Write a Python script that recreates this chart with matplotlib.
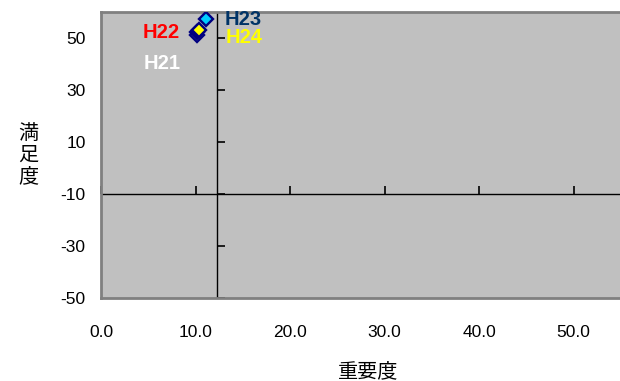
import matplotlib
matplotlib.use("Agg")
import matplotlib.pyplot as plt

plt.rcParams['font.family'] = ['Liberation Sans', 'Noto Sans CJK JP', 'DejaVu Sans']
plt.rcParams['axes.unicode_minus'] = False

# データ
years = ['H21', 'H22', 'H23', 'H24']
importance = [10.15, 10.2, 11.06, 10.37]   # 重要度
satisfaction = [51.4, 52.3, 57.4, 53.2]    # 満足度
fill_colors = ['white', '#000080', '#00CCFF', '#FFFF00']
label_colors = ['white', '#FF0000', '#003366', '#FFFF00']

x_ticks = [0, 10, 20, 30, 40, 50]
y_ticks = [-50, -30, -10, 10, 30, 50]
x_cross = 12.24   # 縦軸の位置
y_cross = -10     # 横軸の位置

fig = plt.figure(figsize=(6.2, 3.81), dpi=100)
ax = fig.add_axes([101 / 620, 1 - 298.3 / 381, 520 / 620, 286 / 381])
ax.set_facecolor('#C0C0C0')
ax.set_xlim(0, 55)
ax.set_ylim(-50, 60)

for side in ['top', 'bottom', 'left']:
    ax.spines[side].set_color('#808080')
    ax.spines[side].set_linewidth(2)
ax.spines['right'].set_visible(False)

ax.set_xticks(x_ticks)
ax.set_xticklabels([f'{v:.1f}' for v in x_ticks])
ax.set_yticks(y_ticks)
ax.tick_params(length=0, labelsize=12.5, colors='black')
ax.tick_params(axis='x', pad=19)
ax.tick_params(axis='y', pad=11)

# 交差する軸
ax.axvline(x_cross, color='black', lw=1, zorder=2)
ax.axhline(y_cross, color='black', lw=1, zorder=2)
ax.plot(x_ticks, [y_cross] * len(x_ticks), ls='none', marker=2, ms=6,
        mew=1.2, color='black', clip_on=False, zorder=2)
ax.plot([x_cross] * len(y_ticks), y_ticks, ls='none', marker=1, ms=6,
        mew=1.2, color='black', clip_on=False, zorder=2)

# 散布点
for i in range(len(years)):
    ax.plot(importance[i], satisfaction[i], marker='D', ms=7.2,
            mfc=fill_colors[i], mec='#000080', mew=1.7, ls='none', zorder=3)

# ラベル
offsets = {'H21': (-35, -29), 'H22': (-36, 0), 'H23': (38, 0), 'H24': (45, -8)}
for i, name in enumerate(years):
    ax.annotate(name, (importance[i], satisfaction[i]),
                xytext=offsets[name], textcoords='offset pixels',
                ha='center', va='center', fontsize=14.5, fontweight='bold',
                color=label_colors[i], zorder=4, annotation_clip=False)

fig.text(368 / 620, 1 - 372 / 381, '重要度', ha='center', va='center',
         fontsize=14.5, family=['Noto Sans CJK JP'])
fig.text(28 / 620, 1 - 155 / 381, '満\n足\n度', ha='center', va='center',
         fontsize=14.5, family=['Noto Sans CJK JP'], linespacing=1.05)

fig.savefig('out.png', dpi=100)
